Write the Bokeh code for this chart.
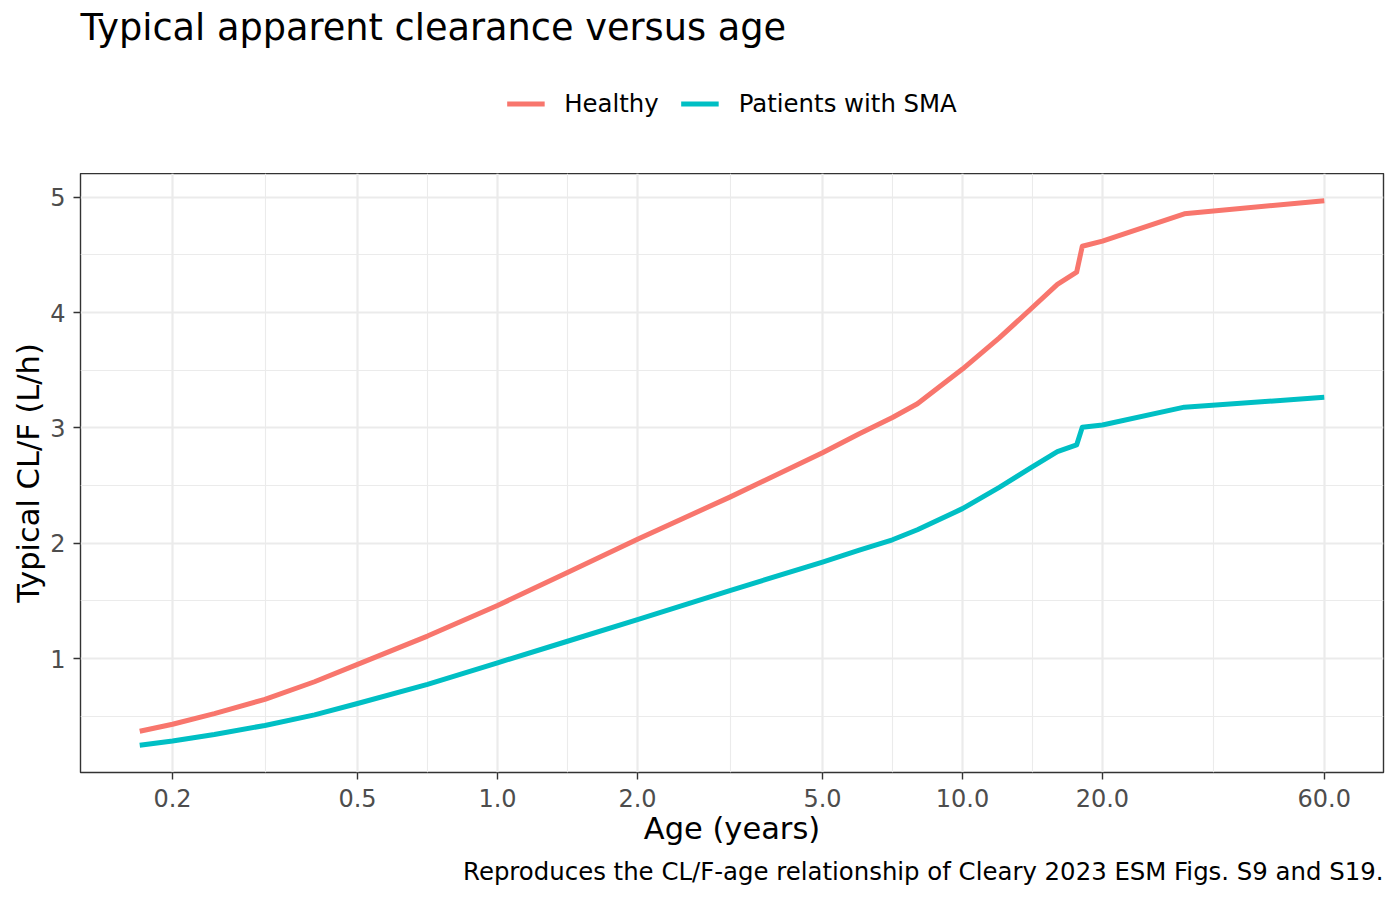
import math
from bokeh.plotting import figure
from bokeh.layouts import column
from bokeh.models import Range1d, FixedTicker, Legend, LegendItem, Title
from bokeh.embed import file_html
from bokeh.resources import INLINE

# ---- data ----
age = [0.17, 0.2, 0.246, 0.316, 0.404, 0.5, 0.707, 1.0, 1.414, 2.0, 3.16, 5.0,
       6.0, 7.07, 8.0, 10.0, 12.0, 14.1, 16.0, 17.6, 18.1, 20.0, 30.0, 60.0]
healthy = [0.37, 0.43, 0.522, 0.646, 0.799, 0.949, 1.195, 1.46, 1.746, 2.035, 2.40, 2.785,
           2.95, 3.09, 3.21, 3.51, 3.78, 4.04, 4.245, 4.35, 4.575, 4.62, 4.857, 4.97]
sma = [0.248, 0.285, 0.341, 0.42, 0.512, 0.61, 0.776, 0.963, 1.15, 1.338, 1.59, 1.837,
       1.94, 2.03, 2.117, 2.30, 2.485, 2.66, 2.795, 2.852, 3.005, 3.025, 3.18, 3.265]
series_names = ["Healthy", "Patients with SMA"]
x_ticks = [0.2, 0.5, 1.0, 2.0, 5.0, 10.0, 20.0, 60.0]
x_tick_labels = ["0.2", "0.5", "1.0", "2.0", "5.0", "10.0", "20.0", "60.0"]
y_ticks = [1, 2, 3, 4, 5]
y_minor = [0.5, 1.5, 2.5, 3.5, 4.5]
title_text = "Typical apparent clearance versus age"
x_title = "Age (years)"
y_title = "Typical CL/F (L/h)"
caption_text = "Reproduces the CL/F-age relationship of Cleary 2023 ESM Figs. S9 and S19."

FONT = "DejaVu Sans"
RED = "#F8766D"
TEAL = "#00BFC4"
LW = 5

# ggplot-like 5% expansion
lx0, lx1 = math.log10(min(age)), math.log10(max(age))
sx = lx1 - lx0
x_lo, x_hi = 10 ** (lx0 - 0.05 * sx), 10 ** (lx1 + 0.05 * sx)
ymin, ymax = min(min(healthy), min(sma)), max(max(healthy), max(sma))
sy = ymax - ymin
y_lo, y_hi = ymin - 0.05 * sy, ymax + 0.05 * sy

x_minor = [math.sqrt(a * b) for a, b in zip(x_ticks[:-1], x_ticks[1:])]
xr = Range1d(x_lo, x_hi)

# ---------------- header: title + legend ----------------
head = figure(width=1400, height=173, x_axis_type="log", title=title_text,
              x_range=xr, y_range=Range1d(100, 101),
              x_axis_location=None, y_axis_location=None,
              output_backend="svg", toolbar_location=None,
              min_border_left=80, min_border_right=17,
              min_border_top=50, min_border_bottom=17)
head.outline_line_color = None
head.grid.grid_line_color = None
head.background_fill_color = "white"
head.border_fill_color = "white"
head.title.text_font = FONT
head.title.text_font_size = "36.7px"
head.title.text_font_style = "normal"
head.title.text_color = "black"
head.title.align = "left"
head.title.standoff = 4

h1 = head.line(age, healthy, line_color=RED, line_width=LW)
h2 = head.line(age, sma, line_color=TEAL, line_width=LW)
legend = Legend(items=[LegendItem(label=series_names[0], renderers=[h1]),
                       LegendItem(label=series_names[1], renderers=[h2])],
                orientation="horizontal", location="center",
                glyph_width=38, glyph_height=28, label_height=28,
                label_standoff=20, spacing=22, padding=0, margin=0,
                border_line_color=None, background_fill_alpha=0,
                label_text_font=FONT, label_text_font_size="24.4px",
                label_text_color="black")
head.add_layout(legend, "center")

# ---------------- main panel ----------------
p = figure(width=1400, height=727, x_axis_type="log",
           x_range=xr, y_range=Range1d(y_lo, y_hi),
           output_backend="svg", toolbar_location=None,
           min_border_left=80, min_border_right=17,
           min_border_top=0, min_border_bottom=128)
p.background_fill_color = "white"
p.border_fill_color = "white"
p.outline_line_color = "#333333"
p.outline_line_width = 1.4

p.xaxis.ticker = FixedTicker(ticks=x_ticks, minor_ticks=x_minor)
p.yaxis.ticker = FixedTicker(ticks=y_ticks, minor_ticks=y_minor)
p.xaxis.major_label_overrides = {t: s for t, s in zip(x_ticks, x_tick_labels)}

for ax in (p.xaxis, p.yaxis):
    ax.axis_line_color = None
    ax.major_tick_line_color = "#333333"
    ax.major_tick_line_width = 1.4
    ax.major_tick_in = 0
    ax.major_tick_out = 7
    ax.minor_tick_line_color = None
    ax.major_label_text_font = FONT
    ax.major_label_text_font_size = "24px"
    ax.major_label_text_color = "#4D4D4D"
    ax.axis_label_text_font = FONT
    ax.axis_label_text_font_size = "30.5px"
    ax.axis_label_text_font_style = "normal"
    ax.axis_label_text_color = "black"

p.xaxis.axis_label = x_title
p.yaxis.axis_label = y_title
p.xaxis.major_label_standoff = 9
p.yaxis.major_label_standoff = 8
p.xaxis.axis_label_standoff = 1
p.yaxis.axis_label_standoff = 1

for g in (p.xgrid, p.ygrid):
    g.grid_line_color = "#EBEBEB"
    g.grid_line_width = 2.2
    g.minor_grid_line_color = "#EBEBEB"
    g.minor_grid_line_width = 1.1

p.line(age, healthy, line_color=RED, line_width=LW, line_join="round")
p.line(age, sma, line_color=TEAL, line_width=LW, line_join="round")

caption = Title(text=caption_text, align="right", text_font=FONT,
                text_font_size="24.4px", text_font_style="normal",
                text_color="black", standoff=13)
p.add_layout(caption, "below")

layout = column(head, p, spacing=0)
open("out.html", "w").write(file_html(layout, INLINE))
